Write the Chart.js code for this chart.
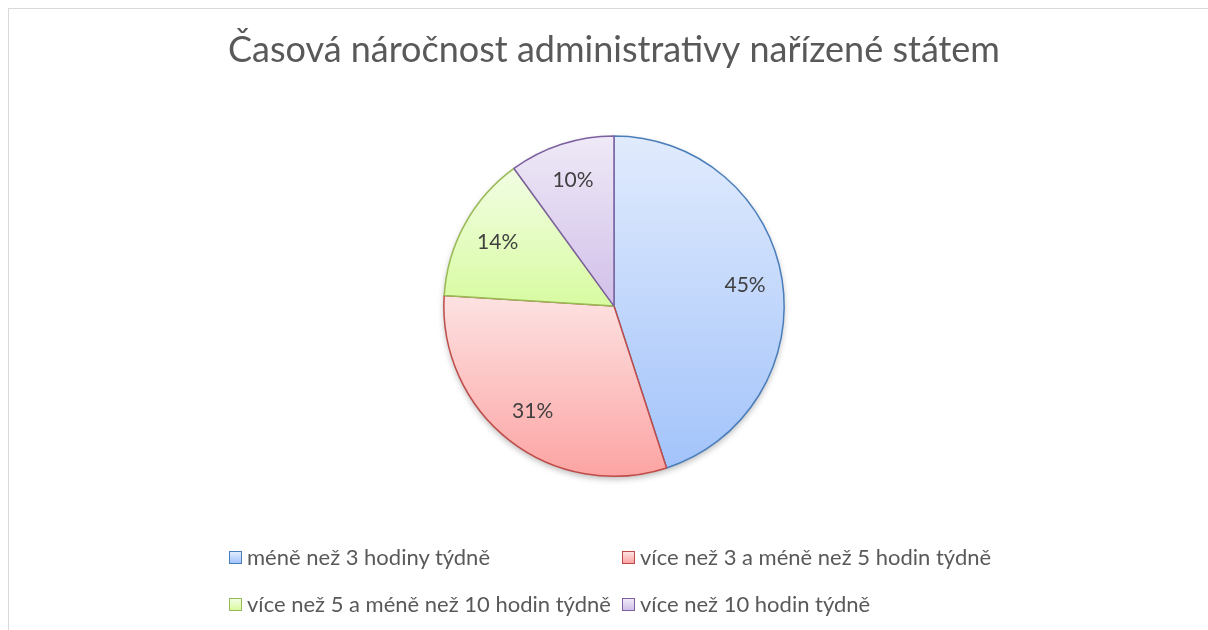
<!DOCTYPE html>
<html>
<head>
<meta charset="utf-8">
<script src="https://cdn.jsdelivr.net/npm/chart.js@4"></script>
<style>
    body { margin: 0; background: #fff; overflow: hidden; }
    #wrap { position: relative; width: 1208px; height: 630px; }
    #frame { position: absolute; left: 8px; top: 8px; width: 1300px; height: 700px; border: 1px solid #d9d9d9; }
    #pieChart { position: absolute; left: 0; top: 0; }
    .legend-item { position: absolute; display: flex; align-items: center; font-family: Lato, sans-serif; font-size: 22px; color: #595959; white-space: nowrap; line-height: 24px; }
    .legend-box { width: 11px; height: 11px; border: 1px solid; margin-right: 5px; }
</style>
</head>
<body>
<div id="wrap">
    <div id="frame"></div>
    <canvas id="pieChart" width="1208" height="630"></canvas>
    <div id="legend"></div>
</div>
<script>
const chartTitle = "Časová náročnost administrativy nařízené státem";
const categories = [
    "méně než 3 hodiny týdně",
    "více než 3 a méně než 5 hodin týdně",
    "více než 5 a méně než 10 hodin týdně",
    "více než 10 hodin týdně"
];
const shares = [45, 31, 14, 10];
const borderColors = ["#4a7ebb", "#be4b48", "#98b954", "#7d60a0"];
const topColors = ["#e1ebfd", "#fde2e2", "#f2fde4", "#efe9f7"];
const bottomColors = ["#a2c3fa", "#fca4a3", "#d8fba1", "#d1c0e9"];

// gradient over the bounding box of each slice, light at top
function sliceFill(c) {
    const i = c.dataIndex;
    const chart = c.chart;
    const area = chart.chartArea;
    if (!area || i === undefined) return bottomColors[i || 0];
    const cy = (area.top + area.bottom) / 2;
    const r = Math.min(area.right - area.left, area.bottom - area.top) / 2;
    const total = shares.reduce((s, v) => s + v, 0);
    let before = 0;
    for (let k = 0; k < i; k++) before += shares[k];
    const a0 = -Math.PI / 2 + before / total * 2 * Math.PI;
    const a1 = a0 + shares[i] / total * 2 * Math.PI;
    const ys = [cy, cy + r * Math.sin(a0), cy + r * Math.sin(a1)];
    [-Math.PI / 2, Math.PI / 2, 3 * Math.PI / 2].forEach(k => {
        if (k >= a0 && k <= a1) ys.push(cy + r * Math.sin(k));
    });
    const g = chart.ctx.createLinearGradient(0, Math.min(...ys), 0, Math.max(...ys));
    g.addColorStop(0, topColors[i]);
    g.addColorStop(1, bottomColors[i]);
    return g;
}

const pieShadow = {
    id: "pieShadow",
    beforeDatasetsDraw(chart) {
        const arc = chart.getDatasetMeta(0).data[0];
        if (!arc) return;
        const ctx = chart.ctx;
        ctx.save();
        ctx.shadowColor = "rgba(0,0,0,0.28)";
        ctx.shadowBlur = 6;
        ctx.shadowOffsetY = 3;
        ctx.fillStyle = "#fff";
        ctx.beginPath();
        ctx.arc(arc.x, arc.y, arc.outerRadius, 0, Math.PI * 2);
        ctx.fill();
        ctx.restore();
    }
};

const sliceLabels = {
    id: "sliceLabels",
    afterDatasetsDraw(chart) {
        const ctx = chart.ctx;
        ctx.save();
        ctx.font = "21px Lato";
        ctx.fillStyle = "#404040";
        ctx.textAlign = "center";
        ctx.textBaseline = "middle";
        chart.getDatasetMeta(0).data.forEach((arc, i) => {
            const mid = (arc.startAngle + arc.endAngle) / 2;
            const rr = arc.outerRadius * 0.78;
            ctx.fillText(shares[i] + "%", arc.x + Math.cos(mid) * rr, arc.y + Math.sin(mid) * rr);
        });
        ctx.restore();
    }
};

new Chart(document.getElementById("pieChart").getContext("2d"), {
    type: "pie",
    data: {
        labels: categories,
        datasets: [{
            data: shares,
            backgroundColor: sliceFill,
            borderColor: borderColors,
            borderWidth: 1.5
        }]
    },
    options: {
        responsive: false,
        animation: false,
        layout: { padding: { left: 20, right: 0, top: 0, bottom: 153 } },
        plugins: {
            legend: { display: false },
            tooltip: { enabled: false },
            title: {
                display: true,
                text: chartTitle,
                color: "#595959",
                font: { family: "Lato", size: 36, weight: "normal" },
                padding: { top: 29, bottom: 63 }
            }
        }
    },
    plugins: [pieShadow, sliceLabels]
});

// legend laid out in two columns like the original
const legend = document.getElementById("legend");
const colX = [229, 622];
const rowY = [545, 592];
categories.forEach((name, i) => {
    const item = document.createElement("div");
    item.className = "legend-item";
    item.style.left = colX[i % 2] + "px";
    item.style.top = rowY[Math.floor(i / 2)] + "px";
    item.innerHTML = `<span class="legend-box" style="border-color:${borderColors[i]};background:linear-gradient(${topColors[i]},${bottomColors[i]})"></span><span>${name}</span>`;
    legend.appendChild(item);
});
</script>
</body>
</html>
